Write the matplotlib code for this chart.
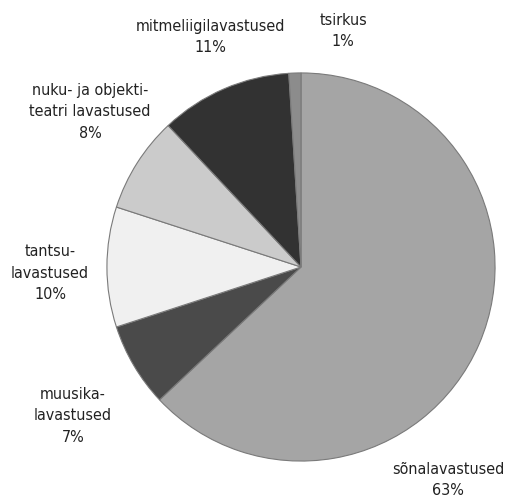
import matplotlib.pyplot as plt

# Lavastuste jaotus liigiti
labels = ["sõnalavastused\n63%", "muusika-\nlavastused\n7%", "tantsu-\nlavastused\n10%",
          "nuku- ja objekti-\nteatri lavastused\n8%", "mitmeliigilavastused\n11%", "tsirkus\n1%"]
shares = [63, 7, 10, 8, 11, 1]
colors = ["#a5a5a5", "#4a4a4a", "#f0f0f0", "#cbcbcb", "#323232", "#8c8c8c"]

# label centres in figure pixels (from the left/top)
label_pos = [(448, 480), (73, 416), (50, 273), (90, 112), (210, 37), (343, 31)]

W, H = 507, 499
fig = plt.figure(figsize=(W / 100, H / 100), dpi=100)
cx, cy, r = 301, 267, 196
ax = fig.add_axes([(cx - r) / W, (H - cy - r) / H, 2 * r / W, 2 * r / H])

ax.pie(shares, colors=colors, startangle=90, counterclock=False, radius=1,
       wedgeprops=dict(edgecolor="#7a7a7a", linewidth=0.8))
ax.set_xlim(-1.01, 1.01)
ax.set_ylim(-1.01, 1.01)
ax.set_aspect("equal")
ax.axis("off")

for lab, (x, y) in zip(labels, label_pos):
    fig.text(x / W, 1 - y / H, lab, ha="center", va="center", fontsize=11.5,
             family="DejaVu Sans", fontstretch="condensed", color="#222222",
             linespacing=1.55)

fig.savefig("out.png", dpi=100)
